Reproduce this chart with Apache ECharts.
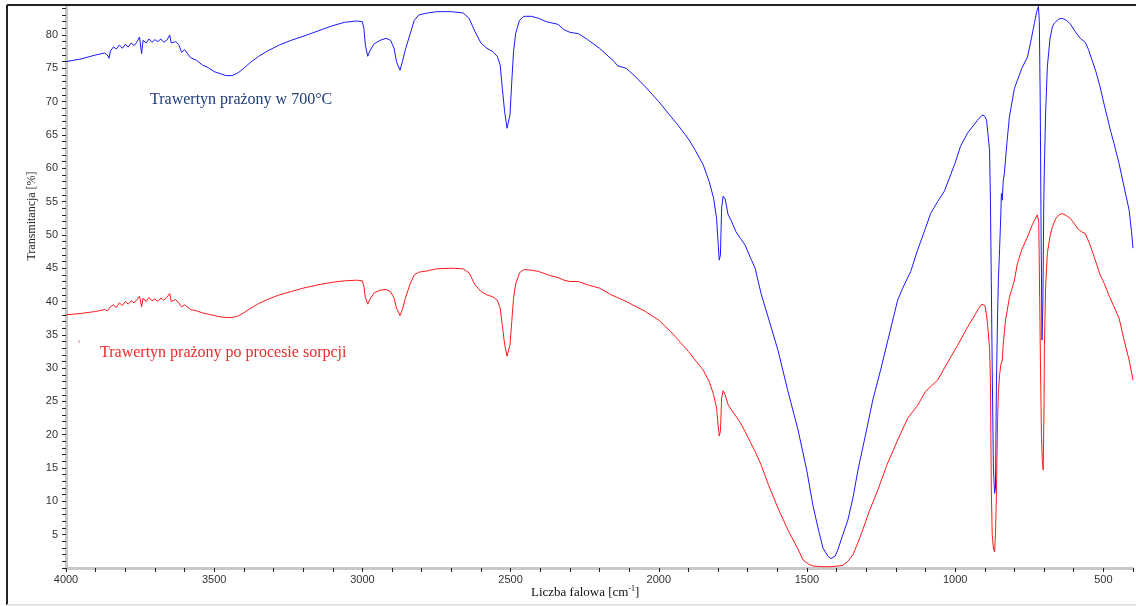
<!DOCTYPE html>
<html>
<head>
<meta charset="utf-8">
<script src="https://cdn.jsdelivr.net/npm/echarts@6/dist/echarts.min.js"></script>
<style>
html,body{margin:0;padding:0;background:#fff;}
#chart{width:1136px;height:607px;}
</style>
</head>
<body>
<div id="chart"></div>
<script>
// ---- data ----
const blueWn = [4000,3950,3900,3870,3860,3855,3850,3840,3830,3820,3810,3800,3790,3780,3770,3760,3752,3745,3740,3730,3720,3710,3700,3690,3680,3670,3660,3650,3645,3630,3620,3610,3600,3580,3560,3540,3520,3500,3480,3460,3440,3420,3400,3380,3350,3320,3280,3240,3200,3150,3100,3060,3020,3000,2995,2990,2982,2975,2960,2940,2920,2905,2893,2885,2873,2865,2855,2840,2825,2810,2780,2750,2700,2660,2640,2620,2600,2580,2560,2545,2535,2528,2520,2512,2508,2502,2496,2490,2483,2470,2455,2430,2405,2380,2360,2340,2320,2300,2271,2240,2200,2175,2150,2140,2110,2080,2045,2000,1960,1934,1900,1877,1850,1830,1815,1805,1800,1796,1792,1788,1783,1776,1766,1756,1740,1725,1709,1690,1675,1655,1630,1598,1564,1530,1500,1480,1460,1446,1430,1419,1405,1396,1379,1362,1345,1328,1300,1278,1250,1227,1194,1177,1150,1127,1100,1083,1059,1036,1000,982,958,935,925,908,900,894,884,881,878,875,871,867,864,861,857,854,850,846,844,841,838,834,825,817,800,790,775,756,745,733,725,719,716,713,710,707,704,701,699,695,689,680,672,665,659,650,639,625,612,595,578,561,550,538,525,511,497,487,475,464,447,430,413,405,400];
const blueT = [76.0,76.4,77.0,77.3,77.0,76.5,77.6,78.2,77.9,78.5,78.0,78.6,78.2,78.8,78.4,79.0,79.7,77.2,79.2,78.8,79.4,78.9,79.3,79.0,79.4,78.9,79.2,80.0,78.8,79.0,78.6,77.4,77.8,76.6,76.2,75.5,75.1,74.5,74.2,73.9,73.9,74.3,75.0,75.8,76.8,77.6,78.5,79.2,79.8,80.6,81.4,81.9,82.1,82.0,81.0,78.5,76.8,77.6,78.7,79.2,79.5,79.2,78.0,76.0,74.7,76.0,77.8,80.0,82.2,83.0,83.3,83.5,83.5,83.3,82.5,80.5,78.8,78.0,77.5,76.8,75.5,72.0,68.5,66.0,65.8,68.0,73.0,77.5,80.2,82.2,82.8,82.8,82.5,82.0,81.8,81.6,80.8,80.4,80.2,79.3,78.0,77.0,76.0,75.4,75.0,73.8,72.2,70.0,67.8,66.4,64.4,62.7,60.5,58.0,55.5,52.5,49.0,46.2,47.0,54.0,55.8,55.4,53.0,52.2,50.5,49.5,48.5,46.5,45.0,41.2,37.5,32.7,26.5,20.7,14.5,9.4,5.5,3.0,1.8,1.4,1.8,2.7,5.0,7.2,10.5,14.7,20.5,25.2,30.0,34.2,40.2,42.0,44.5,47.7,51.0,53.2,55.0,56.6,60.8,63.3,65.3,66.6,67.2,68.0,67.8,67.2,62.7,55.2,43.0,30.0,15.0,11.2,12.0,26.7,38.0,43.5,48.0,53.0,56.2,55.2,58.0,59.2,64.0,67.7,72.0,73.2,75.0,76.7,79.0,81.7,83.5,84.3,82.0,70.0,50.0,34.2,40.0,55.0,60.2,68.0,75.2,79.5,81.2,81.8,82.0,82.4,82.5,82.2,81.7,80.5,79.5,78.9,77.8,76.2,74.5,72.2,69.5,67.7,65.5,63.7,60.7,57.2,53.7,50.5,48.0];

const redWn = [4000,3950,3900,3870,3860,3850,3840,3830,3820,3810,3800,3790,3780,3770,3760,3752,3745,3740,3730,3720,3710,3700,3690,3680,3670,3660,3650,3645,3630,3620,3610,3600,3580,3560,3540,3520,3500,3480,3460,3440,3420,3400,3380,3350,3320,3280,3240,3200,3150,3100,3060,3020,3000,2995,2990,2982,2975,2960,2940,2920,2905,2893,2885,2873,2865,2855,2840,2825,2810,2780,2750,2700,2660,2640,2620,2600,2580,2560,2545,2535,2528,2520,2512,2508,2502,2496,2490,2483,2470,2455,2430,2405,2380,2360,2340,2320,2300,2271,2240,2200,2160,2140,2110,2080,2045,2000,1960,1934,1900,1877,1850,1830,1815,1805,1800,1796,1792,1788,1783,1776,1766,1756,1740,1725,1709,1690,1675,1655,1630,1598,1564,1530,1513,1495,1480,1450,1420,1395,1379,1362,1345,1328,1312,1290,1261,1230,1194,1160,1127,1100,1059,1030,992,960,940,920,910,900,894,890,884,881,878,875,871,867,864,861,857,854,850,846,841,838,830,817,800,790,775,756,740,723,718,716,712,709,706,703,700,699,695,689,680,672,660,650,639,625,612,595,588,575,561,545,531,511,497,480,464,447,430,413,400];
const redT = [38.0,38.2,38.5,38.8,38.6,39.2,39.5,39.1,39.8,39.4,40.0,39.6,40.1,39.8,40.3,40.8,39.2,40.5,40.0,40.6,40.1,40.4,40.0,40.5,40.2,40.6,41.2,40.0,40.3,39.8,39.2,39.5,38.8,38.6,38.3,38.1,37.9,37.7,37.6,37.6,37.8,38.3,38.9,39.7,40.3,41.0,41.5,42.0,42.5,42.9,43.1,43.2,43.1,42.3,40.6,39.6,40.3,41.3,41.7,41.8,41.5,40.5,39.0,37.9,38.8,40.5,42.5,44.0,44.4,44.6,44.9,45.0,44.9,44.3,42.5,41.5,41.0,40.7,40.2,39.0,36.5,33.5,31.8,31.8,33.5,37.0,40.5,42.6,44.3,44.8,44.7,44.5,44.1,43.8,43.6,43.2,43.0,43.0,42.5,42.0,41.0,40.6,40.0,39.3,38.5,37.2,35.5,34.2,32.5,31.2,29.7,28.0,26.0,24.0,21.5,19.8,20.5,25.5,26.6,26.0,24.5,23.8,22.8,21.8,20.5,18.8,17.5,15.5,12.5,9.0,5.7,2.8,1.2,0.6,0.3,0.2,0.2,0.3,0.4,1.0,2.0,3.8,5.7,8.5,11.7,15.5,19.2,22.5,24.4,26.5,28.2,30.5,33.4,36.0,37.5,39.0,39.6,39.4,38.0,36.2,33.0,28.2,11.7,5.0,3.0,2.4,5.0,10.7,22.0,26.7,29.0,30.5,31.2,33.5,37.2,40.6,43.2,45.7,47.8,49.7,51.5,53.0,52.0,45.0,30.0,20.2,16.0,14.7,25.0,33.2,42.0,47.2,49.8,51.2,52.5,53.0,53.2,52.9,52.5,51.5,51.0,50.5,50.2,48.5,46.7,44.0,42.7,40.8,39.2,37.5,34.2,31.2,28.2];

const xTickLabels = [4000,3500,3000,2500,2000,1500,1000,500];
const yTickLabels = [5,10,15,20,25,30,35,40,45,50,55,60,65,70,75,80];
const blueLabel = 'Trawertyn prażony w 700°C';
const redLabel = 'Trawertyn prażony po procesie sorpcji';
const xName = 'Liczba falowa [cm';
const yName = 'Transmitancja [%]';

const bluePairs = blueWn.map((w,i)=>[w, blueT[i]]);
const redPairs = redWn.map((w,i)=>[w, redT[i]]);

const chart = echarts.init(document.getElementById('chart'), null, {renderer:'canvas'});
const labelFont = {fontFamily:'Liberation Sans, Arial, sans-serif', fontSize:11, color:'#333'};
chart.setOption({
  animation:false,
  backgroundColor:'#fff',
  grid:{left:66, right:0, top:5, bottom:39, containLabel:false},
  xAxis:{
    type:'value', inverse:true, min:400, max:4000, interval:100,
    axisLine:{show:true, lineStyle:{color:'#c8c8c8', width:3}},
    axisTick:{show:true, length:4, lineStyle:{color:'#222', width:1}},
    axisLabel:Object.assign({interval:0, margin:6, showMinLabel:true, showMaxLabel:true, hideOverlap:false,
      formatter:v=> xTickLabels.indexOf(v)>=0 ? String(v) : ''}, labelFont),
    splitLine:{show:false}
  },
  yAxis:{
    type:'value', min:0, max:84.5, interval:1,
    axisLine:{show:true, lineStyle:{color:'#c8c8c8', width:3}},
    axisTick:{show:true, length:4, lineStyle:{color:'#222', width:1}},
    axisLabel:Object.assign({interval:0, margin:8,
      formatter:v=> yTickLabels.indexOf(v)>=0 ? String(v) : ''}, labelFont),
    splitLine:{show:false}
  },
  graphic:[
    {type:'line', shape:{x1:7, y1:5, x2:1136, y2:5}, style:{stroke:'#222', lineWidth:2}, z:100},
    {type:'line', shape:{x1:7, y1:5, x2:7, y2:605}, style:{stroke:'#222', lineWidth:2}, z:100},
    {type:'line', shape:{x1:7, y1:605, x2:1136, y2:605}, style:{stroke:'#e4e4e4', lineWidth:2}, z:100},
    {type:'line', shape:{x1:79, y1:340, x2:79, y2:343}, style:{stroke:'#f08080', lineWidth:1}},
    {type:'text', left:150, top:92, style:{text:blueLabel, fill:'#1f3c7a', font:'16px "Liberation Serif", "Times New Roman", serif'}},
    {type:'text', left:100, top:345, style:{text:redLabel, fill:'#ee2a2a', font:'16px "Liberation Serif", "Times New Roman", serif'}},
    {type:'text', x:531, y:585, style:{
      text:'{a|'+xName+'}{s|-1}{a|]}',
      rich:{a:{fontFamily:'Liberation Serif, Times New Roman, serif', fontSize:13, fill:'#111', verticalAlign:'bottom'},
            s:{fontFamily:'Liberation Serif, Times New Roman, serif', fontSize:8, fill:'#111', verticalAlign:'top', padding:[0,0,6,0]}}
    }},
    {type:'text', x:32, y:216, rotation:Math.PI/2, style:{text:yName, fill:'#222', align:'center', verticalAlign:'middle',
      font:'12px "Liberation Serif", "Times New Roman", serif'}}
  ],
  series:[
    {type:'line', data:bluePairs, showSymbol:false, lineStyle:{color:'#1a1aff', width:1}, itemStyle:{color:'#1a1aff'}},
    {type:'line', data:redPairs, showSymbol:false, lineStyle:{color:'#ff1a1a', width:1}, itemStyle:{color:'#ff1a1a'}}
  ]
});
</script>
</body>
</html>
